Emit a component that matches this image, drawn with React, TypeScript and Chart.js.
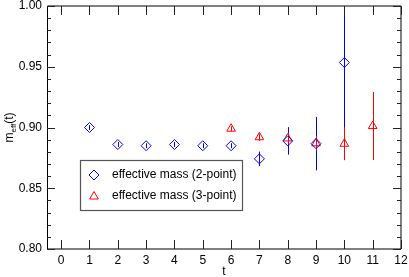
import React, { useEffect, useRef } from "react";
import { Chart, registerables } from "chart.js";

Chart.register(...registerables);

// ---- data ----
const tTwoPoint = [1, 2, 3, 4, 5, 6, 7, 8, 9, 10];
const mTwoPoint = [0.9, 0.886, 0.885, 0.886, 0.885, 0.885, 0.8742, 0.889, 0.8867, 0.9535];
const errTwoPoint = [0.002, 0.002, 0.002, 0.002, 0.002, 0.002, 0.006, 0.0113, 0.022, 0.054];

const tThreePoint = [6, 7, 8, 9, 10, 11];
const mThreePoint = [0.899, 0.892, 0.891, 0.887, 0.8866, 0.9012];
const errThreePoint = [0.002, 0.003, 0.005, 0.006, 0.0135, 0.028];

const xTickValues = [0, 1, 2, 3, 4, 5, 6, 7, 8, 9, 10, 11, 12];
const yTickValues = [0.8, 0.85, 0.9, 0.95, 1.0];
const yMinorStep = 0.01;

const seriesLabels = ["effective mass (2-point)", "effective mass (3-point)"];
const seriesColors = ["rgb(0,0,255)", "rgb(255,0,0)"];
const seriesErrors = [errTwoPoint, errThreePoint];

const FONT = "'Liberation Sans', Arial, Helvetica, sans-serif";

function diamondPath(ctx: CanvasRenderingContext2D, x: number, y: number, r: number) {
  ctx.beginPath();
  ctx.moveTo(x - r, y);
  ctx.lineTo(x, y - r);
  ctx.lineTo(x + r, y);
  ctx.lineTo(x, y + r);
  ctx.closePath();
}
function trianglePath(ctx: CanvasRenderingContext2D, x: number, y: number, r: number) {
  ctx.beginPath();
  for (let k = 0; k < 3; k++) {
    const a = (k * 2 * Math.PI) / 3;
    const px = x + Math.sin(a) * r;
    const py = y - Math.cos(a) * r;
    if (k === 0) ctx.moveTo(px, py);
    else ctx.lineTo(px, py);
  }
  ctx.closePath();
}

const errorBarPlugin = {
  id: "errorBars",
  beforeDatasetsDraw(chart: any) {
    const ctx = chart.ctx;
    const xs = chart.scales.x;
    const ys = chart.scales.y;
    const area = chart.chartArea;
    ctx.save();
    ctx.beginPath();
    ctx.rect(area.left, area.top, area.right - area.left, area.bottom - area.top);
    ctx.clip();
    ctx.lineWidth = 1;
    chart.data.datasets.forEach((ds: any, idx: number) => {
      const errs = seriesErrors[idx];
      ds.data.forEach((p: any, i: number) => {
        const px = Math.round(xs.getPixelForValue(p.x)) + 0.5;
        const y1 = ys.getPixelForValue(p.y + errs[i]);
        const y2 = ys.getPixelForValue(p.y - errs[i]);
        ctx.strokeStyle = seriesColors[idx];
        ctx.beginPath();
        ctx.moveTo(px, y1);
        ctx.lineTo(px, y2);
        ctx.stroke();
      });
    });
    ctx.restore();
  },
};

const framePlugin = {
  id: "frameTicks",
  afterDraw(chart: any) {
    const ctx = chart.ctx;
    const xs = chart.scales.x;
    const ys = chart.scales.y;
    const { left, right, top, bottom } = chart.chartArea;
    ctx.save();
    ctx.strokeStyle = "#000";
    ctx.lineWidth = 1;
    ctx.beginPath();
    ctx.rect(left + 0.5, top, right - left - 0.5, bottom - top);
    ctx.stroke();
    ctx.strokeStyle = "#222";
    xTickValues.forEach((v) => {
      const px = Math.round(xs.getPixelForValue(v)) + 0.5;
      ctx.beginPath();
      ctx.moveTo(px, bottom);
      ctx.lineTo(px, bottom - 9);
      ctx.moveTo(px, top);
      ctx.lineTo(px, top + 9);
      ctx.stroke();
    });
    const nMinor = Math.round((ys.max - ys.min) / yMinorStep);
    for (let k = 0; k <= nMinor; k++) {
      const v = ys.min + k * yMinorStep;
      const py = Math.round(ys.getPixelForValue(v)) + 0.5;
      const major = yTickValues.some((t) => Math.abs(t - v) < 1e-6);
      const len = major ? 8 : 4;
      ctx.beginPath();
      ctx.moveTo(left, py);
      ctx.lineTo(left + len, py);
      ctx.moveTo(right, py);
      ctx.lineTo(right - len, py);
      ctx.stroke();
    }
    ctx.restore();

    // y axis title m_eff(t)
    ctx.save();
    ctx.fillStyle = "#000";
    ctx.translate(13, (top + bottom) / 2);
    ctx.rotate(-Math.PI / 2);
    ctx.textBaseline = "alphabetic";
    ctx.textAlign = "left";
    ctx.font = `12px ${FONT}`;
    const wM = ctx.measureText("m").width;
    ctx.font = `8px ${FONT}`;
    const wSub = ctx.measureText("eff").width;
    ctx.font = `12px ${FONT}`;
    const wT = ctx.measureText("(t)").width;
    const total = wM + wSub + wT;
    let cx = -total / 2;
    ctx.fillText("m", cx, 0);
    cx += wM;
    ctx.font = `8px ${FONT}`;
    ctx.fillText("eff", cx, 3);
    cx += wSub;
    ctx.font = `12px ${FONT}`;
    ctx.fillText("(t)", cx, 0);
    ctx.restore();

    // legend
    ctx.save();
    const bx = 80.5, by = 160.5, bw = 162, bh = 50;
    ctx.fillStyle = "#fff";
    ctx.fillRect(bx, by, bw, bh);
    ctx.strokeStyle = "#555";
    ctx.lineWidth = 1.2;
    ctx.strokeRect(bx, by, bw, bh);
    ctx.lineWidth = 1;
    const rows = [175, 195.5];
    ctx.strokeStyle = seriesColors[0];
    diamondPath(ctx, 94, rows[0], 5);
    ctx.stroke();
    ctx.strokeStyle = seriesColors[1];
    trianglePath(ctx, 94, rows[1] + 1, 5);
    ctx.stroke();
    ctx.fillStyle = "#000";
    ctx.font = `12px ${FONT}`;
    ctx.textBaseline = "middle";
    ctx.textAlign = "left";
    ctx.fillText(seriesLabels[0], 112, rows[0]);
    ctx.fillText(seriesLabels[1], 112, rows[1]);
    ctx.restore();
  },
};

export default function App() {
  const canvasRef = useRef<HTMLCanvasElement | null>(null);

  useEffect(() => {
    document.body.style.margin = "0";
    const canvas = canvasRef.current;
    if (!canvas) return;
    const chart = new Chart(canvas, {
      type: "scatter",
      data: {
        datasets: [
          {
            label: seriesLabels[0],
            data: tTwoPoint.map((t, i) => ({ x: t, y: mTwoPoint[i] })),
            pointStyle: "rectRot",
            pointRadius: 5,
            pointHoverRadius: 5,
            borderColor: seriesColors[0],
            pointBorderColor: seriesColors[0],
            pointHoverBorderColor: seriesColors[0],
            backgroundColor: "rgba(0,0,0,0)",
            pointBackgroundColor: "rgba(0,0,0,0)",
            pointBorderWidth: 1,
            pointHoverBorderWidth: 1,
            showLine: false,
          },
          {
            label: seriesLabels[1],
            data: tThreePoint.map((t, i) => ({ x: t, y: mThreePoint[i] })),
            pointStyle: "triangle",
            pointRadius: 5,
            pointHoverRadius: 5,
            borderColor: seriesColors[1],
            pointBorderColor: seriesColors[1],
            pointHoverBorderColor: seriesColors[1],
            backgroundColor: "rgba(0,0,0,0)",
            pointBackgroundColor: "rgba(0,0,0,0)",
            pointBorderWidth: 1,
            pointHoverBorderWidth: 1,
            showLine: false,
          },
        ],
      },
      options: {
        animation: false,
        responsive: false,
        devicePixelRatio: 1,
        events: [],
        layout: { padding: { top: 5, right: 8, left: 0, bottom: 0 } },
        plugins: {
          legend: { display: false },
          tooltip: { enabled: false },
        },
        scales: {
          x: {
            type: "linear",
            min: -0.5,
            max: 12,
            grid: { display: false, drawTicks: false },
            border: { display: false },
            afterBuildTicks: (s: any) => {
              s.ticks = xTickValues.map((v) => ({ value: v }));
            },
            afterFit: (s: any) => {
              s.height = 28;
              s.paddingLeft = 0;
              s.paddingRight = 0;
            },
            ticks: {
              color: "#000",
              font: { family: FONT, size: 12 },
              padding: 4,
              maxRotation: 0,
              autoSkip: false,
              callback: (v: any) => String(v),
            },
            title: {
              display: true,
              text: "t",
              color: "#000",
              font: { family: FONT, size: 12 },
              padding: { top: 0, bottom: -2 },
            },
          },
          y: {
            type: "linear",
            min: 0.8,
            max: 1.0,
            grid: { display: false, drawTicks: false },
            border: { display: false },
            afterBuildTicks: (s: any) => {
              s.ticks = yTickValues.map((v) => ({ value: v }));
            },
            afterFit: (s: any) => {
              s.width = 47;
              s.paddingTop = 0;
              s.paddingBottom = 0;
            },
            ticks: {
              color: "#000",
              font: { family: FONT, size: 12 },
              padding: 5,
              autoSkip: false,
              callback: (v: any) => Number(v).toFixed(2),
            },
            title: { display: false },
          },
        },
      },
      plugins: [errorBarPlugin, framePlugin],
    });
    return () => chart.destroy();
  }, []);

  return (
    <div style={{ position: "fixed", left: 0, top: 0, width: 409, height: 277 }}>
      <canvas ref={canvasRef} width={409} height={277} style={{ width: 409, height: 277 }} />
    </div>
  );
}
